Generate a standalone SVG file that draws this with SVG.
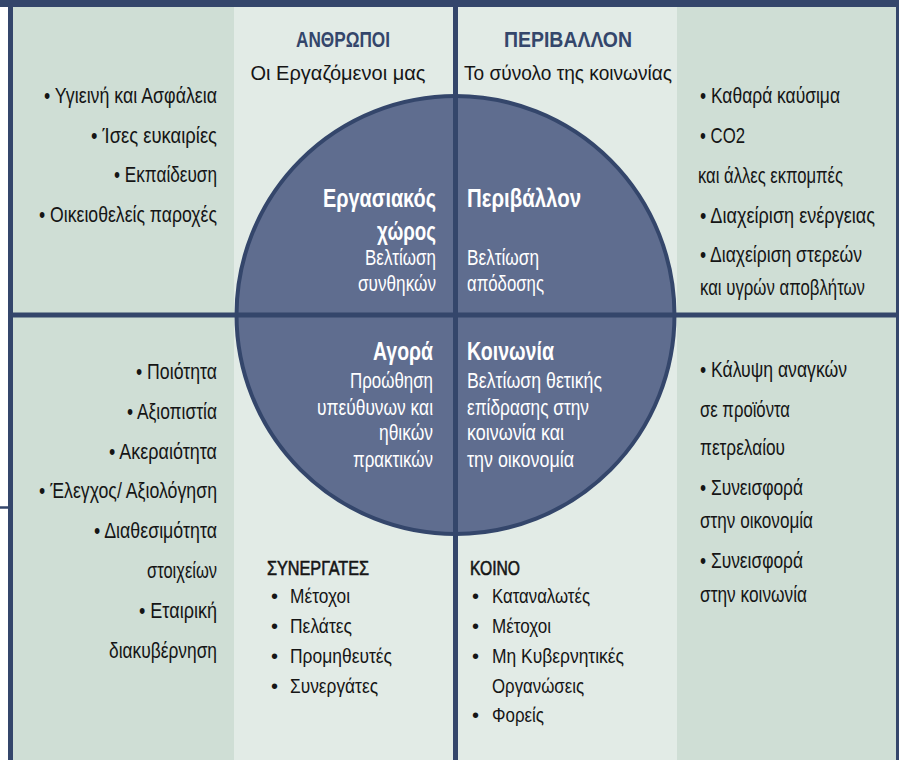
<svg xmlns="http://www.w3.org/2000/svg" width="899" height="760" viewBox="0 0 899 760">
<style>
text{font-family:"Liberation Sans",Arial,sans-serif;}
.t{font-size:22px;fill:#151515;}
.e{text-anchor:end;}
.m{text-anchor:middle;}
.h{font-size:22px;font-weight:bold;fill:#34466b;}
.s{font-size:21px;fill:#151515;}
.cb{font-size:26px;font-weight:bold;fill:#ffffff;}
.cr{font-size:22px;fill:#ffffff;}
.b{font-size:20px;fill:#151515;}
.bh{font-size:20px;fill:#151515;stroke:#151515;stroke-width:0.6;}
.ln{stroke:#34466b;fill:none;}
</style>
<rect x="0" y="0" width="899" height="760" fill="#ffffff"/>
<g id="bands">
<rect x="13" y="7" width="221" height="753" fill="#cfded5"/>
<rect x="234" y="7" width="443" height="753" fill="#e2ebe6"/>
<rect x="677" y="7" width="219" height="753" fill="#cfded5"/>
</g>
<g id="circle">
<circle cx="455.5" cy="315" r="219" fill="#5f6d8f" stroke="#34466b" stroke-width="4"/>
</g>
<g id="connectors">
<rect x="0" y="0" width="899" height="7" fill="#34466b"/>
<rect x="8" y="0" width="5" height="760" fill="#34466b"/>
<rect x="896" y="0" width="3" height="760" fill="#34466b"/>
<line class="ln" x1="13" y1="315" x2="896" y2="315" stroke-width="5"/>
<line class="ln" x1="455.5" y1="7" x2="455.5" y2="760" stroke-width="5"/>
<line class="ln" x1="0" y1="507.5" x2="8" y2="507.5" stroke-width="2.5"/>
</g>
<g id="people-header">
<text class="h m" x="343" y="47" textLength="94" lengthAdjust="spacingAndGlyphs">ΑΝΘΡΩΠΟΙ</text>
<text class="s m" x="338" y="80" textLength="175" lengthAdjust="spacingAndGlyphs">Οι Εργαζόμενοι μας</text>
</g>
<g id="environment-header">
<text class="h m" x="568" y="47" textLength="128" lengthAdjust="spacingAndGlyphs">ΠΕΡΙΒΑΛΛΟΝ</text>
<text class="s m" x="568" y="80" textLength="208" lengthAdjust="spacingAndGlyphs">Το σύνολο της κοινωνίας</text>
</g>
<g id="left-top">
<text class="t e" x="217" y="103" textLength="173" lengthAdjust="spacingAndGlyphs">• Υγιεινή και Ασφάλεια</text>
<text class="t e" x="217" y="143" textLength="126" lengthAdjust="spacingAndGlyphs">• Ίσες ευκαιρίες</text>
<text class="t e" x="217" y="182" textLength="103" lengthAdjust="spacingAndGlyphs">• Εκπαίδευση</text>
<text class="t e" x="217" y="222" textLength="178" lengthAdjust="spacingAndGlyphs">• Οικειοθελείς παροχές</text>
</g>
<g id="left-bottom">
<text class="t e" x="217" y="379" textLength="81" lengthAdjust="spacingAndGlyphs">• Ποιότητα</text>
<text class="t e" x="217" y="419" textLength="90" lengthAdjust="spacingAndGlyphs">• Αξιοπιστία</text>
<text class="t e" x="217" y="459" textLength="108" lengthAdjust="spacingAndGlyphs">• Ακεραιότητα</text>
<text class="t e" x="217" y="498" textLength="178" lengthAdjust="spacingAndGlyphs">• Έλεγχος/ Αξιολόγηση</text>
<text class="t e" x="217" y="538" textLength="123" lengthAdjust="spacingAndGlyphs">• Διαθεσιμότητα</text>
<text class="t e" x="217" y="578" textLength="70" lengthAdjust="spacingAndGlyphs">στοιχείων</text>
<text class="t e" x="217" y="618" textLength="78" lengthAdjust="spacingAndGlyphs">• Εταιρική</text>
<text class="t e" x="217" y="658" textLength="108" lengthAdjust="spacingAndGlyphs">διακυβέρνηση</text>
</g>
<g id="right-top">
<text class="t" x="700" y="103" textLength="140" lengthAdjust="spacingAndGlyphs">• Καθαρά καύσιμα</text>
<text class="t" x="700" y="143" textLength="45" lengthAdjust="spacingAndGlyphs">• CO2</text>
<text class="t" x="698" y="183" textLength="145" lengthAdjust="spacingAndGlyphs">και άλλες εκπομπές</text>
<text class="t" x="700" y="223" textLength="175" lengthAdjust="spacingAndGlyphs">• Διαχείριση ενέργειας</text>
<text class="t" x="700" y="262" textLength="162" lengthAdjust="spacingAndGlyphs">• Διαχείριση στερεών</text>
<text class="t" x="700" y="295" textLength="165" lengthAdjust="spacingAndGlyphs">και υγρών αποβλήτων</text>
</g>
<g id="right-bottom">
<text class="t" x="700" y="377" textLength="147" lengthAdjust="spacingAndGlyphs">• Κάλυψη αναγκών</text>
<text class="t" x="700" y="417" textLength="90" lengthAdjust="spacingAndGlyphs">σε προϊόντα</text>
<text class="t" x="700" y="455" textLength="85" lengthAdjust="spacingAndGlyphs">πετρελαίου</text>
<text class="t" x="700" y="495" textLength="103" lengthAdjust="spacingAndGlyphs">• Συνεισφορά</text>
<text class="t" x="700" y="528" textLength="113" lengthAdjust="spacingAndGlyphs">στην οικονομία</text>
<text class="t" x="700" y="568" textLength="103" lengthAdjust="spacingAndGlyphs">• Συνεισφορά</text>
<text class="t" x="700" y="602" textLength="107" lengthAdjust="spacingAndGlyphs">στην κοινωνία</text>
</g>
<g id="workplace">
<text class="cb e" x="436" y="207" textLength="113" lengthAdjust="spacingAndGlyphs">Εργασιακός</text>
<text class="cb e" x="436" y="240" textLength="59" lengthAdjust="spacingAndGlyphs">χώρος</text>
<text class="cr e" x="436" y="265" textLength="71" lengthAdjust="spacingAndGlyphs">Βελτίωση</text>
<text class="cr e" x="436" y="291" textLength="78" lengthAdjust="spacingAndGlyphs">συνθηκών</text>
</g>
<g id="environment">
<text class="cb" x="467" y="207" textLength="114" lengthAdjust="spacingAndGlyphs">Περιβάλλον</text>
<text class="cr" x="467" y="265" textLength="72" lengthAdjust="spacingAndGlyphs">Βελτίωση</text>
<text class="cr" x="467" y="291" textLength="77" lengthAdjust="spacingAndGlyphs">απόδοσης</text>
</g>
<g id="market">
<text class="cb e" x="433" y="360" textLength="60" lengthAdjust="spacingAndGlyphs">Αγορά</text>
<text class="cr e" x="433" y="388" textLength="83" lengthAdjust="spacingAndGlyphs">Προώθηση</text>
<text class="cr e" x="433" y="415" textLength="116" lengthAdjust="spacingAndGlyphs">υπεύθυνων και</text>
<text class="cr e" x="433" y="440" textLength="54" lengthAdjust="spacingAndGlyphs">ηθικών</text>
<text class="cr e" x="433" y="467" textLength="80" lengthAdjust="spacingAndGlyphs">πρακτικών</text>
</g>
<g id="society">
<text class="cb" x="467" y="360" textLength="87" lengthAdjust="spacingAndGlyphs">Κοινωνία</text>
<text class="cr" x="467" y="388" textLength="135" lengthAdjust="spacingAndGlyphs">Βελτίωση θετικής</text>
<text class="cr" x="467" y="415" textLength="122" lengthAdjust="spacingAndGlyphs">επίδρασης στην</text>
<text class="cr" x="467" y="440" textLength="97" lengthAdjust="spacingAndGlyphs">κοινωνία και</text>
<text class="cr" x="467" y="467" textLength="107" lengthAdjust="spacingAndGlyphs">την οικονομία</text>
</g>
<g id="partners">
<text class="bh" x="267" y="575" textLength="102" lengthAdjust="spacingAndGlyphs">ΣΥΝΕΡΓΑΤΕΣ</text>
<text class="b" x="271" y="603">•</text><text class="b" x="290" y="603" textLength="60" lengthAdjust="spacingAndGlyphs">Μέτοχοι</text>
<text class="b" x="271" y="633">•</text><text class="b" x="290" y="633" textLength="62" lengthAdjust="spacingAndGlyphs">Πελάτες</text>
<text class="b" x="271" y="663">•</text><text class="b" x="290" y="663" textLength="102" lengthAdjust="spacingAndGlyphs">Προμηθευτές</text>
<text class="b" x="271" y="693">•</text><text class="b" x="290" y="693" textLength="88" lengthAdjust="spacingAndGlyphs">Συνεργάτες</text>
</g>
<g id="public">
<text class="bh" x="470" y="575" textLength="50" lengthAdjust="spacingAndGlyphs">ΚΟΙΝΟ</text>
<text class="b" x="472" y="603">•</text><text class="b" x="492" y="603" textLength="98" lengthAdjust="spacingAndGlyphs">Καταναλωτές</text>
<text class="b" x="472" y="633">•</text><text class="b" x="492" y="633" textLength="59" lengthAdjust="spacingAndGlyphs">Μέτοχοι</text>
<text class="b" x="472" y="663">•</text><text class="b" x="492" y="663" textLength="132" lengthAdjust="spacingAndGlyphs">Μη Κυβερνητικές</text>
<text class="b" x="492" y="693" textLength="92" lengthAdjust="spacingAndGlyphs">Οργανώσεις</text>
<text class="b" x="472" y="722">•</text><text class="b" x="492" y="722" textLength="52" lengthAdjust="spacingAndGlyphs">Φορείς</text>
</g>
</svg>
